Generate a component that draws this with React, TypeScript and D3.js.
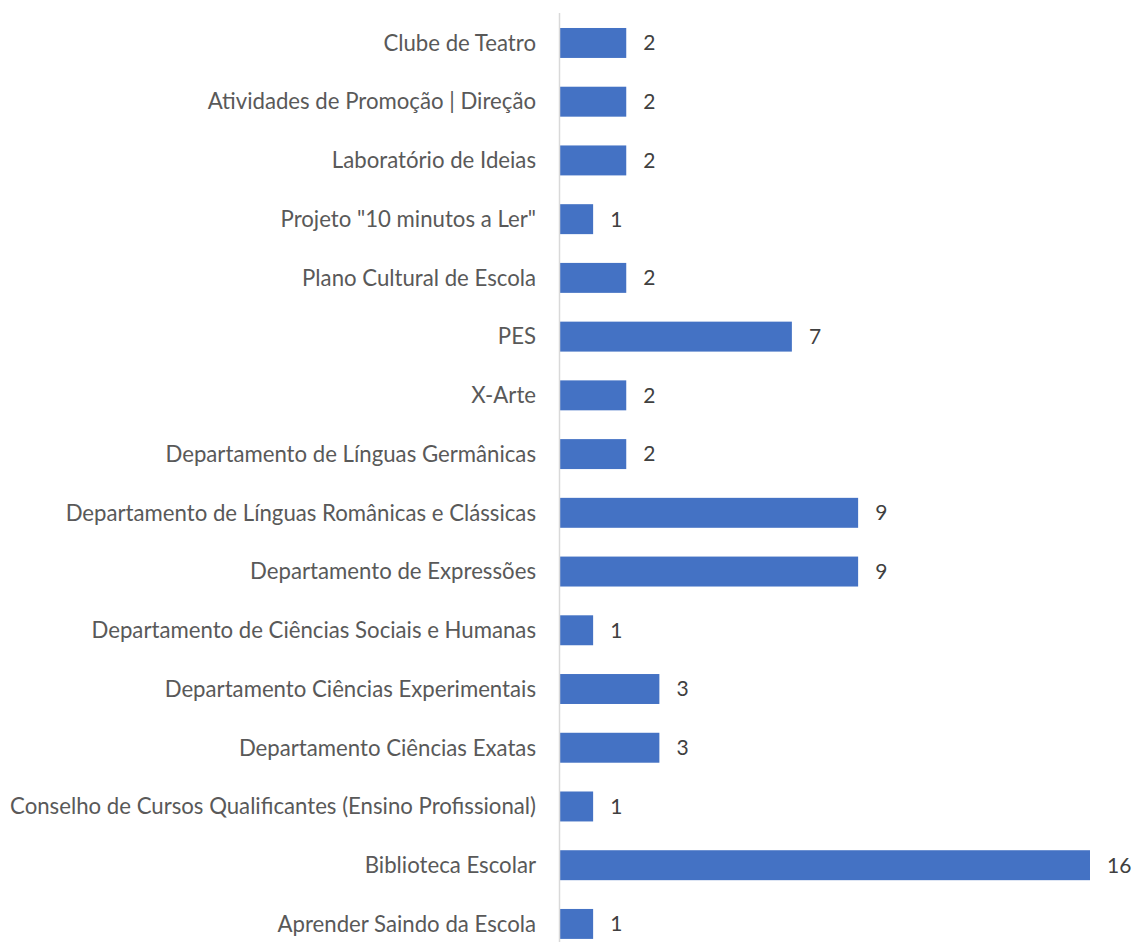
import React from 'react';
import * as d3 from 'd3';

const categories = [
  'Clube de Teatro',
  'Atividades de Promoção | Direção',
  'Laboratório de Ideias',
  'Projeto "10 minutos a Ler"',
  'Plano Cultural de Escola',
  'PES',
  'X-Arte',
  'Departamento de Línguas Germânicas',
  'Departamento de Línguas Românicas e Clássicas',
  'Departamento de Expressões',
  'Departamento de Ciências Sociais e Humanas',
  'Departamento Ciências Experimentais',
  'Departamento Ciências Exatas',
  'Conselho de Cursos Qualificantes (Ensino Profissional)',
  'Biblioteca Escolar',
  'Aprender Saindo da Escola',
];
const values = [2, 2, 2, 1, 2, 7, 2, 2, 9, 9, 1, 3, 3, 1, 16, 1];

const width = 1132;
const height = 942;
const axisX = 560;
const font = 'Lato, sans-serif';

function BarChart() {
  const svgRef = React.useRef<SVGSVGElement>(null);

  React.useEffect(() => {
    const svg = d3.select(svgRef.current);
    svg.selectAll('*').remove();

    const xScale = d3.scaleLinear().domain([0, 16]).range([axisX, axisX + 530]);
    const yScale = d3
      .scaleBand()
      .domain(categories)
      .range([13.6, 953.3])
      .paddingInner(0.49)
      .paddingOuter(0.245);

    // bars
    svg
      .selectAll('.bar')
      .data(categories)
      .enter()
      .append('rect')
      .attr('x', xScale(0))
      .attr('y', (d) => yScale(d)!)
      .attr('width', (d, i) => xScale(values[i]) - xScale(0))
      .attr('height', yScale.bandwidth())
      .attr('fill', '#4472c4');

    // axis line
    svg
      .append('line')
      .attr('x1', axisX - 0.5)
      .attr('x2', axisX - 0.5)
      .attr('y1', 13)
      .attr('y2', height)
      .attr('stroke', '#d9d9d9')
      .attr('stroke-width', 1.5);

    // category labels
    svg
      .selectAll('.cat')
      .data(categories)
      .enter()
      .append('text')
      .attr('x', axisX - 24)
      .attr('y', (d) => yScale(d)! + yScale.bandwidth() / 2)
      .attr('dy', '0.35em')
      .attr('text-anchor', 'end')
      .attr('fill', '#595959')
      .attr('font-family', font)
      .attr('font-size', 22.2)
      .text((d) => d);

    // value labels
    svg
      .selectAll('.val')
      .data(categories)
      .enter()
      .append('text')
      .attr('x', (d, i) => xScale(values[i]) + 17)
      .attr('y', (d) => yScale(d)! + yScale.bandwidth() / 2)
      .attr('dy', '0.35em')
      .attr('fill', '#404040')
      .attr('font-family', font)
      .attr('font-size', 21)
      .text((d, i) => values[i]);
  }, []);

  return <svg ref={svgRef} width={width} height={height}></svg>;
}

export default function App() {
  return (
    <div style={{ position: 'absolute', left: 0, top: 0, background: '#fff' }}>
      <BarChart />
    </div>
  );
}
